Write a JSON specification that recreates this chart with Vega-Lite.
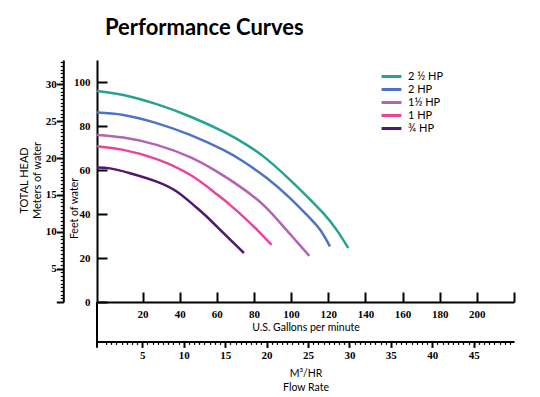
{
  "$schema": "https://vega.github.io/schema/vega-lite/v6.json",
  "width": 417,
  "height": 242,
  "autosize": {"type": "none"},
  "padding": {"left": 97, "top": 60, "right": 26, "bottom": 95},
  "background": "white",
  "title": {"text": "Performance Curves", "anchor": "start", "frame": "group", "dx": 8, "offset": 3, "baseline": "alphabetic", "font": "Lato", "fontSize": 22, "fontWeight": "bold", "color": "black"},
  "config": {
    "view": {"stroke": null},
    "axis": {"grid": false, "domainColor": "black", "tickColor": "black", "labelColor": "black", "titleColor": "black", "domainWidth": 2, "tickWidth": 2, "labelFont": "Liberation Sans Narrow", "labelFontSize": 11, "labelFontWeight": "bold", "titleFont": "Lato", "titleFontSize": 10.5, "titleFontWeight": "normal"}
  },
  "datasets": {
    "curves": [
      {"hp": "2 ½ HP", "gpm": -4.5, "ft": 96.0}, {"hp": "2 ½ HP", "gpm": 9.7, "ft": 94.2}, {"hp": "2 ½ HP", "gpm": 27.6, "ft": 90.0}, {"hp": "2 ½ HP", "gpm": 45.6, "ft": 84.4}, {"hp": "2 ½ HP", "gpm": 63.5, "ft": 77.5}, {"hp": "2 ½ HP", "gpm": 76.1, "ft": 71.5}, {"hp": "2 ½ HP", "gpm": 86.9, "ft": 65.0}, {"hp": "2 ½ HP", "gpm": 99.4, "ft": 55.6}, {"hp": "2 ½ HP", "gpm": 108.4, "ft": 48.2}, {"hp": "2 ½ HP", "gpm": 117.3, "ft": 40.4}, {"hp": "2 ½ HP", "gpm": 124.5, "ft": 32.8}, {"hp": "2 ½ HP", "gpm": 130.8, "ft": 24.5},
      {"hp": "2 HP", "gpm": -4.5, "ft": 86.2}, {"hp": "2 HP", "gpm": 9.7, "ft": 85.1}, {"hp": "2 HP", "gpm": 27.6, "ft": 81.4}, {"hp": "2 HP", "gpm": 45.6, "ft": 76.0}, {"hp": "2 HP", "gpm": 63.5, "ft": 69.2}, {"hp": "2 HP", "gpm": 74.3, "ft": 63.9}, {"hp": "2 HP", "gpm": 86.9, "ft": 56.4}, {"hp": "2 HP", "gpm": 99.4, "ft": 47.3}, {"hp": "2 HP", "gpm": 108.4, "ft": 39.7}, {"hp": "2 HP", "gpm": 115.6, "ft": 32.9}, {"hp": "2 HP", "gpm": 120.9, "ft": 25.3},
      {"hp": "1½ HP", "gpm": -4.5, "ft": 76.0}, {"hp": "1½ HP", "gpm": 9.7, "ft": 74.8}, {"hp": "1½ HP", "gpm": 27.6, "ft": 71.5}, {"hp": "1½ HP", "gpm": 45.6, "ft": 65.9}, {"hp": "1½ HP", "gpm": 59.9, "ft": 59.4}, {"hp": "1½ HP", "gpm": 72.5, "ft": 52.5}, {"hp": "1½ HP", "gpm": 85.0, "ft": 44.2}, {"hp": "1½ HP", "gpm": 95.8, "ft": 34.4}, {"hp": "1½ HP", "gpm": 103.0, "ft": 27.5}, {"hp": "1½ HP", "gpm": 109.8, "ft": 21.0},
      {"hp": "1 HP", "gpm": -4.5, "ft": 70.9}, {"hp": "1 HP", "gpm": 9.7, "ft": 69.2}, {"hp": "1 HP", "gpm": 27.6, "ft": 65.0}, {"hp": "1 HP", "gpm": 45.6, "ft": 57.9}, {"hp": "1 HP", "gpm": 58.1, "ft": 50.3}, {"hp": "1 HP", "gpm": 67.1, "ft": 44.2}, {"hp": "1 HP", "gpm": 76.1, "ft": 37.4}, {"hp": "1 HP", "gpm": 83.3, "ft": 31.4}, {"hp": "1 HP", "gpm": 89.5, "ft": 26.0},
      {"hp": "¾ HP", "gpm": -4.5, "ft": 61.2}, {"hp": "¾ HP", "gpm": 2.5, "ft": 60.8}, {"hp": "¾ HP", "gpm": 13.3, "ft": 58.6}, {"hp": "¾ HP", "gpm": 27.6, "ft": 54.8}, {"hp": "¾ HP", "gpm": 38.4, "ft": 50.3}, {"hp": "¾ HP", "gpm": 47.4, "ft": 44.2}, {"hp": "¾ HP", "gpm": 54.5, "ft": 38.9}, {"hp": "¾ HP", "gpm": 63.5, "ft": 31.4}, {"hp": "¾ HP", "gpm": 74.6, "ft": 22.3}
    ],
    "scaleref": [
      {"m3": 5, "meters": 5}, {"m3": 45, "meters": 30}
    ]
  },
  "layer": [
    {
      "layer": [
        {
          "data": {"name": "curves"},
          "mark": {"type": "line", "interpolate": "natural", "strokeWidth": 2.5},
          "encoding": {
            "x": {"field": "gpm", "type": "quantitative", "scale": {"domain": [-4.5, 220], "nice": false, "zero": false},
              "axis": {"orient": "bottom", "values": [20, 40, 60, 80, 100, 120, 140, 160, 180, 200, 220], "labelExpr": "datum.value > 210 ? '' : datum.label", "tickSize": -10, "labelPadding": 16, "title": "U.S. Gallons per minute", "titleY": 25, "titleBaseline": "middle"}},
            "y": {"field": "ft", "type": "quantitative", "scale": {"domain": [0, 110.1], "nice": false},
              "axis": {"orient": "left", "values": [0, 10, 20, 30, 40, 50, 60, 70, 80, 90, 100], "tickSize": -10, "labelPadding": 17, "title": "Feet of water", "titleX": -22.5, "titleY": 148, "titleAngle": -90, "titleBaseline": "middle", "titleAlign": "center"}},
            "color": {"field": "hp", "type": "nominal",
              "scale": {"domain": ["2 ½ HP", "2 HP", "1½ HP", "1 HP", "¾ HP"], "range": ["#26a291", "#4e73c4", "#b263b4", "#e9449c", "#4d1873"]},
              "legend": {"orient": "none", "legendX": 287.5, "legendY": 9.5, "title": null, "symbolType": "M-1.8,0L1.8,0", "symbolSize": 121, "symbolStrokeWidth": 3, "labelFont": "Lato", "labelFontSize": 11, "labelColor": "black", "labelOffset": 9.5, "rowPadding": 0}}
          }
        },
        {
          "data": {"values": [{}]},
          "mark": {"type": "rule", "strokeWidth": 2, "color": "black"},
          "encoding": {"x": {"datum": -4.5, "type": "quantitative"}, "y": {"datum": 0, "type": "quantitative"}, "y2": {"datum": -20.8}}
        }
      ]
    },
    {
      "data": {"name": "scaleref"},
      "mark": {"type": "point", "opacity": 0},
      "encoding": {
        "x": {"field": "m3", "type": "quantitative", "scale": {"domain": [-0.466, 49.86], "nice": false, "zero": false},
          "axis": {"orient": "bottom", "offset": 39.4, "values": [5, 10, 15, 20, 25, 30, 35, 40, 45], "tickSize": 6, "labelPadding": 2, "title": ["M³/HR", "Flow Rate"], "titleY": 27, "titleBaseline": "top", "titleLineHeight": 14}},
        "y": {"field": "meters", "type": "quantitative", "scale": {"domain": [0.5, 33.29], "nice": false, "zero": false},
          "axis": {"orient": "left", "offset": 33.7, "values": [0.5, 5, 10, 15, 20, 25, 30], "labelExpr": "datum.value < 1 ? '' : datum.label", "tickSize": 7, "labelPadding": 0, "title": ["TOTAL HEAD", "Meters of water"], "titleFontSize": 11, "titleX": -39.3, "titleY": 120, "titleAngle": -90, "titleBaseline": "middle", "titleAlign": "center", "titleLineHeight": 13}}
      }
    },
    {
      "data": {"name": "scaleref"},
      "mark": {"type": "point", "opacity": 0},
      "encoding": {
        "x": {"field": "m3", "type": "quantitative", "scale": {"domain": [-0.466, 49.86], "nice": false, "zero": false},
          "axis": {"orient": "bottom", "offset": 39.4, "labels": false, "domain": false, "title": null, "tickSize": 3, "tickWidth": 1.2,
            "values": [0.625, 1.25, 1.875, 2.5, 3.125, 3.75, 4.375, 5.625, 6.25, 6.875, 7.5, 8.125, 8.75, 9.375, 10.625, 11.25, 11.875, 12.5, 13.125, 13.75, 14.375, 15.625, 16.25, 16.875, 17.5, 18.125, 18.75, 19.375, 20.625, 21.25, 21.875, 22.5, 23.125, 23.75, 24.375, 25.625, 26.25, 26.875, 27.5, 28.125, 28.75, 29.375, 30.625, 31.25, 31.875, 32.5, 33.125, 33.75, 34.375, 35.625, 36.25, 36.875, 37.5, 38.125, 38.75, 39.375, 40.625, 41.25, 41.875, 42.5, 43.125, 43.75, 44.375, 45.625, 46.25, 46.875, 47.5, 48.125, 48.75, 49.375]}},
        "y": {"field": "meters", "type": "quantitative", "scale": {"domain": [0.5, 33.29], "nice": false, "zero": false},
          "axis": {"orient": "left", "offset": 33.7, "labels": false, "domain": false, "title": null, "tickSize": 3, "tickWidth": 1.2,
            "values": [1, 1.5, 2, 2.5, 3, 3.5, 4, 4.5, 5.5, 6, 6.5, 7, 7.5, 8, 8.5, 9, 9.5, 10.5, 11, 11.5, 12, 12.5, 13, 13.5, 14, 14.5, 15.5, 16, 16.5, 17, 17.5, 18, 18.5, 19, 19.5, 20.5, 21, 21.5, 22, 22.5, 23, 23.5, 24, 24.5, 25.5, 26, 26.5, 27, 27.5, 28, 28.5, 29, 29.5, 30.5, 31, 31.5, 32, 32.5, 33]}}
      }
    }
  ],
  "resolve": {"scale": {"x": "independent", "y": "independent"}}
}
